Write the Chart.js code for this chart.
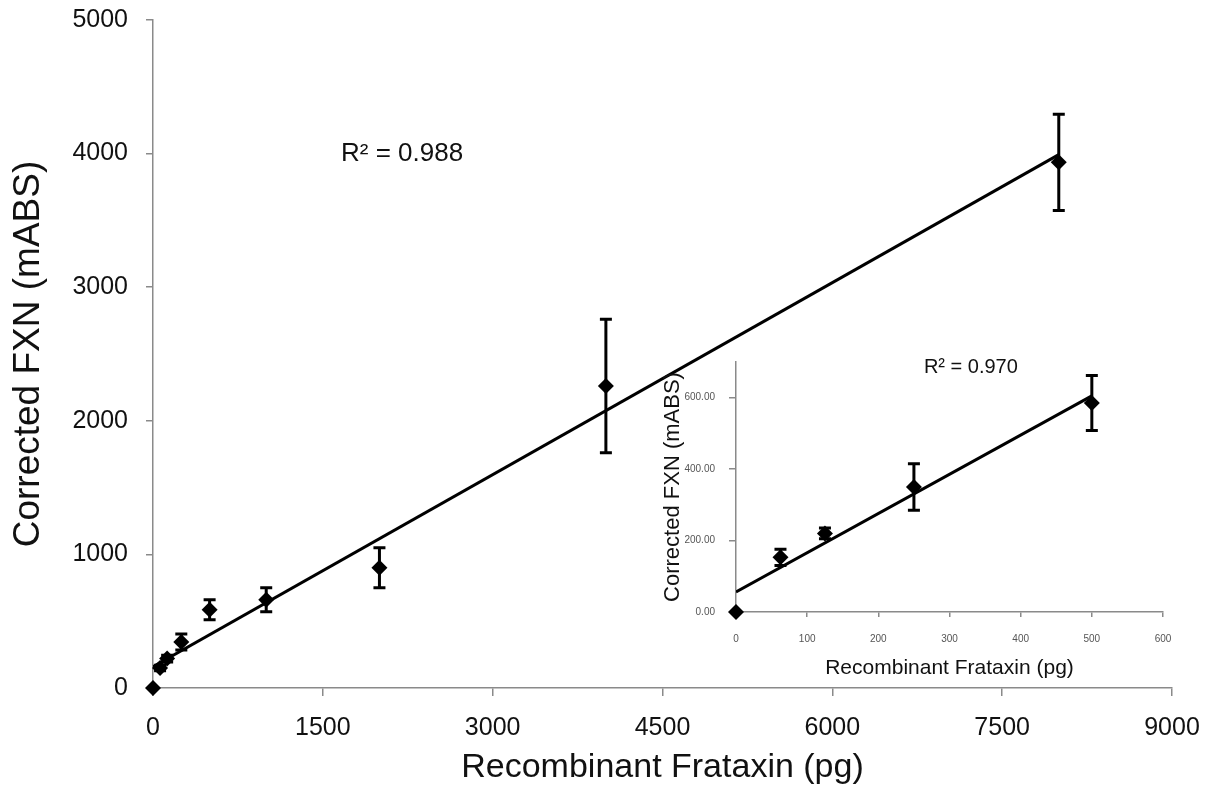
<!DOCTYPE html>
<html>
<head>
<meta charset="utf-8">
<script src="https://cdn.jsdelivr.net/npm/chart.js@4/dist/chart.umd.min.js"></script>
<style>
  body { margin: 0; background: #fff; }
  #wrap { position: relative; width: 1225px; height: 792px; }
  #main { position: absolute; left: 0; top: 0; }
  #inset { position: absolute; left: 660px; top: 340px; }
</style>
</head>
<body>
<div id="wrap">
  <canvas id="main" width="1225" height="792"></canvas>
  <canvas id="inset" width="560" height="345"></canvas>
</div>
<script>
// main standard curve
const amounts = [0, 62.5, 125, 250, 500, 1000, 2000, 4000, 8000];
const signal = [0, 150, 220, 345, 585, 660, 900, 2260, 3935];
const signalErr = [0, 20, 25, 60, 75, 90, 150, 500, 360];
const fitSlope = 0.479, fitIntercept = 160, fitR2 = 'R² = 0.988';

// inset, low range
const lowAmounts = [0, 62.5, 125, 250, 500];
const lowSignal = [0, 153, 220, 350, 585];
const lowErr = [0, 23, 15, 65, 77];
const lowSlope = 1.098, lowIntercept = 56, lowR2 = 'R² = 0.970';

const font = 'Liberation Sans, Arial, sans-serif';
const axisGrey = '#8a8a8a';

function pts(xs, ys) {
    return xs.map((x, i) => ({ x: x, y: ys[i] }));
}

// vertical error bars with caps, drawn through the scales
const errorBars = {
    id: 'errorBars',
    afterDatasetsDraw(chart, args, opts) {
        const ctx = chart.ctx;
        const xs = chart.scales.x, ys = chart.scales.y;
        chart.data.datasets.forEach(ds => {
            if (!ds.errors) return;
            ctx.save();
            ctx.strokeStyle = '#000';
            ctx.lineWidth = opts.width;
            ds.data.forEach((p, i) => {
                const e = ds.errors[i];
                if (!e) return;
                const px = xs.getPixelForValue(p.x);
                const top = ys.getPixelForValue(p.y + e);
                const bot = ys.getPixelForValue(p.y - e);
                ctx.beginPath();
                ctx.moveTo(px, top); ctx.lineTo(px, bot);
                ctx.moveTo(px - opts.cap, top); ctx.lineTo(px + opts.cap, top);
                ctx.moveTo(px - opts.cap, bot); ctx.lineTo(px + opts.cap, bot);
                ctx.stroke();
            });
            ctx.restore();
        });
    }
};

// R² label anchored in data coordinates
const r2Label = {
    id: 'r2Label',
    afterDraw(chart, args, opts) {
        const ctx = chart.ctx;
        ctx.save();
        ctx.fillStyle = '#111';
        ctx.font = opts.size + 'px ' + font;
        ctx.textAlign = 'center';
        ctx.textBaseline = 'middle';
        ctx.fillText(opts.text, chart.scales.x.getPixelForValue(opts.x), chart.scales.y.getPixelForValue(opts.y));
        ctx.restore();
    }
};

function makeChart(el, c) {
    return new Chart(el, {
        type: 'scatter',
        data: {
            datasets: [
                {
                    data: pts(c.xs, c.ys),
                    errors: c.errs,
                    pointStyle: 'rectRot',
                    pointRadius: c.radius,
                    backgroundColor: '#000',
                    borderColor: '#000',
                    borderWidth: 0,
                    clip: false,
                    order: 1
                },
                {
                    data: [
                        { x: 0, y: c.b },
                        { x: c.xs[c.xs.length - 1], y: c.b + c.m * c.xs[c.xs.length - 1] }
                    ],
                    showLine: true,
                    pointRadius: 0,
                    borderColor: '#000',
                    borderWidth: 3,
                    order: 2
                }
            ]
        },
        options: {
            responsive: false,
            animation: false,
            layout: { padding: c.padding },
            plugins: {
                legend: { display: false },
                tooltip: { enabled: false },
                errorBars: { width: 3, cap: c.cap },
                r2Label: c.label
            },
            scales: {
                x: {
                    type: 'linear',
                    min: c.xMin, max: c.xMax,
                    border: { color: axisGrey, width: 1.5 },
                    grid: { drawOnChartArea: false, color: axisGrey, tickLength: c.xTick, lineWidth: 1.5 },
                    ticks: {
                        stepSize: c.xStep, padding: c.xPad, color: c.tickColor,
                        font: { family: font, size: c.tickSize }, maxRotation: 0,
                        callback: v => String(v)
                    },
                    title: { display: true, text: 'Recombinant Frataxin (pg)', color: '#111', font: { family: font, size: c.titleSize }, padding: c.xTitlePad },
                    afterFit: s => { s.height = c.xHeight; }
                },
                y: {
                    type: 'linear',
                    min: 0, max: c.yMax,
                    border: { color: axisGrey, width: 1.5 },
                    grid: { drawOnChartArea: false, color: axisGrey, tickLength: 7, lineWidth: 1.5 },
                    ticks: {
                        stepSize: c.yStep, padding: c.yPad, color: c.tickColor,
                        font: { family: font, size: c.tickSize },
                        callback: v => c.fmt(v)
                    },
                    afterBuildTicks: s => { s.ticks = s.ticks.filter(t => t.value % c.yStep === 0); },
                    title: { display: true, text: 'Corrected FXN (mABS)', color: '#111', font: { family: font, size: c.yTitleSize }, padding: c.yTitlePad },
                    afterFit: s => {
                        s.width = c.yWidth;
                        s.paddingTop = 0;
                        s.paddingBottom = 0;
                    }
                }
            }
        },
        plugins: [errorBars, r2Label]
    });
}

makeChart(document.getElementById('main'), {
    xs: amounts, ys: signal, errs: signalErr, m: fitSlope, b: fitIntercept,
    radius: 8, cap: 6,
    padding: { left: 0, top: 20, right: 53, bottom: 0 },
    xMin: 0, xMax: 9000, xStep: 1500, yMax: 5000, yStep: 1000,
    xTick: 8, xPad: 17, yPad: 18, xTitlePad: { top: 4 }, yTitlePad: { top: 7, bottom: 0 },
    xHeight: 104, yWidth: 153,
    tickSize: 25, titleSize: 34, yTitleSize: 37, tickColor: '#111',
    fmt: v => String(v),
    label: { text: fitR2, x: 2200, y: 4000, size: 26 }
});

makeChart(document.getElementById('inset'), {
    xs: lowAmounts, ys: lowSignal, errs: lowErr, m: lowSlope, b: lowIntercept,
    radius: 8, cap: 6,
    padding: { left: 0, top: 22, right: 57, bottom: 0 },
    xMin: 0, xMax: 600, xStep: 100, yMax: 700, yStep: 200,
    xTick: 5, xPad: 16, yPad: 14, xTitlePad: { top: 10 }, yTitlePad: { top: 0, bottom: 0 },
    xHeight: 73, yWidth: 76,
    tickSize: 10, titleSize: 21, yTitleSize: 22, tickColor: '#555',
    fmt: v => v.toFixed(2),
    label: { text: lowR2, x: 330, y: 685, size: 20 }
});
</script>
</body>
</html>
